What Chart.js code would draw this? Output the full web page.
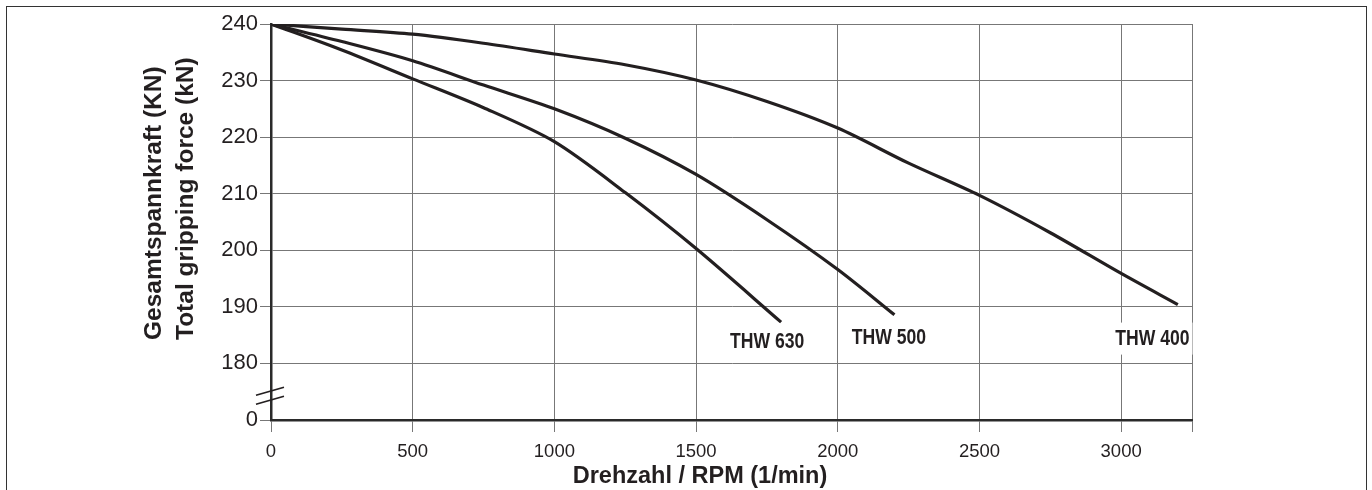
<!DOCTYPE html>
<html>
<head>
<meta charset="utf-8">
<script src="https://cdn.jsdelivr.net/npm/chart.js@4"></script>
<style>
  html, body { margin: 0; padding: 0; background: #fff; }
  body { width: 1372px; height: 490px; overflow: hidden; position: relative; }
  #frame { position: absolute; left: 6px; top: 6px; width: 1359px; height: 600px; border: 1.5px solid #333; }
  #wrap { position: absolute; left: 0; top: 0; width: 1372px; height: 490px; }
</style>
</head>
<body>
<div id="frame"></div>
<div id="wrap"><canvas id="c" width="1372" height="490"></canvas></div>
<script>
// ── data ─────────────────────────────────────────────────────────
const rpm630 = [0, 250, 500, 750, 1000, 1250, 1500, 1800];
const thw630 = [240, 235.4, 230.3, 225.2, 219.2, 210.2, 200.3, 187.3];

const rpm500 = [0, 250, 500, 750, 1000, 1250, 1500, 1750, 2000, 2200];
const thw500 = [240, 236.9, 233.5, 229.2, 225.0, 219.8, 213.4, 205.4, 196.6, 188.6];

const rpm400 = [0, 250, 500, 750, 1000, 1250, 1500, 1750, 2000, 2250, 2500, 2750, 3000, 3200];
const thw400 = [240, 239.1, 238.2, 236.6, 234.7, 232.8, 230.1, 226.3, 221.6, 215.4, 209.7, 203.1, 195.9, 190.4];

const seriesNames = ['THW 630', 'THW 500', 'THW 400'];

const xTicks = [0, 500, 1000, 1500, 2000, 2500, 3000, 3250];  // 3250 = right frame, no label
const yTicks = [170, 180, 190, 200, 210, 220, 230, 240];      // 170 stands for the broken "0"
const yBreakLabel = '0';

const xTitle = 'Drehzahl / RPM (1/min)';
const yTitle = ['Gesamtspannkraft (KN)', 'Total gripping force (kN)'];

const INK = '#231f20';
const FONT = '"Liberation Sans", Arial, Helvetica, sans-serif';

const toXY = (xs, ys) => xs.map((x, i) => ({ x, y: ys[i] }));

const lineStyle = {
  borderColor: INK, borderWidth: 3.2, pointRadius: 0, tension: 0.3, fill: false,
};

// end-of-curve labels, offset in px from the last point
const labelOffsets = [[-14, 25.5], [-5.5, 29], [-25.5, 40]];

const curveLabels = {
  id: 'curveLabels',
  afterDatasetsDraw(chart) {
    const { ctx } = chart;
    const sx = 0.8;  // condensed look of the original lettering
    ctx.save();
    ctx.font = `bold 22px ${FONT}`;
    ctx.textAlign = 'center';
    ctx.textBaseline = 'alphabetic';
    chart.data.datasets.forEach((ds, i) => {
      const pts = chart.getDatasetMeta(i).data;
      const p = pts[pts.length - 1];
      const x = p.x + labelOffsets[i][0];
      const y = p.y + labelOffsets[i][1];
      const w = ctx.measureText(seriesNames[i]).width * sx;
      ctx.fillStyle = '#fff';
      ctx.fillRect(x - w / 2 - 3, y - 22, w + 6, 32);
      ctx.save();
      ctx.translate(x, y);
      ctx.scale(sx, 1);
      ctx.fillStyle = INK;
      ctx.fillText(seriesNames[i], 0, 0);
      ctx.restore();
    });
    ctx.restore();
  },
};

// axis titles + the axis break slashes
const decorations = {
  id: 'decorations',
  afterDraw(chart) {
    const { ctx, chartArea, scales } = chart;
    ctx.save();
    ctx.fillStyle = INK;

    ctx.font = `bold 23.5px ${FONT}`;
    ctx.textAlign = 'center';
    ctx.textBaseline = 'alphabetic';
    ctx.fillText(xTitle, 700, 483);

    ctx.font = `bold 24.5px ${FONT}`;
    ctx.textAlign = 'left';
    [161, 193].forEach((bx, i) => {
      ctx.save();
      ctx.translate(bx, 340);
      ctx.rotate(-Math.PI / 2);
      ctx.fillText(yTitle[i], 0, 0);
      ctx.restore();
    });

    // break marks on the y axis between 0 and 180
    const yb = scales.y.getPixelForValue(174.3);
    const x0 = chartArea.left;
    ctx.strokeStyle = INK;
    ctx.lineWidth = 1.6;
    [-4.5, 4.5].forEach(d => {
      ctx.beginPath();
      ctx.moveTo(x0 - 15, yb + d + 4);
      ctx.lineTo(x0 + 13, yb + d - 4);
      ctx.stroke();
    });
    ctx.restore();
  },
};

new Chart(document.getElementById('c'), {
  type: 'line',
  data: {
    datasets: [
      { label: seriesNames[0], data: toXY(rpm630, thw630), ...lineStyle },
      { label: seriesNames[1], data: toXY(rpm500, thw500), ...lineStyle },
      { label: seriesNames[2], data: toXY(rpm400, thw400), ...lineStyle },
    ],
  },
  options: {
    responsive: false,
    animation: false,
    layout: { padding: { left: 0, right: 180, top: 24, bottom: 0 } },
    plugins: { legend: { display: false }, tooltip: { enabled: false } },
    scales: {
      x: {
        type: 'linear', min: 0, max: 3250,
        afterBuildTicks: s => { s.ticks = xTicks.map(v => ({ value: v })); },
        afterFit: s => { s.height = 70; },
        ticks: {
          autoSkip: false, maxRotation: 0, padding: 9,
          color: INK, font: { family: FONT, size: 18.5 },
          callback: v => (v === 3250 ? '' : String(v)),
        },
        grid: { color: '#777', lineWidth: 1, tickLength: 12 },
        border: { color: '#2a2a2a', width: 2.5 },
      },
      y: {
        type: 'linear', min: 170, max: 240,
        afterBuildTicks: s => { s.ticks = yTicks.map(v => ({ value: v })); },
        afterFit: s => { s.width = 271; },
        ticks: {
          autoSkip: false, padding: 2,
          color: INK, font: { family: FONT, size: 22 },
          callback: v => (v === 170 ? yBreakLabel : String(v)),
        },
        grid: { color: '#777', lineWidth: 1, tickLength: 11 },
        border: { color: '#2a2a2a', width: 2.5 },
      },
    },
  },
  plugins: [curveLabels, decorations],
});
</script>
</body>
</html>
